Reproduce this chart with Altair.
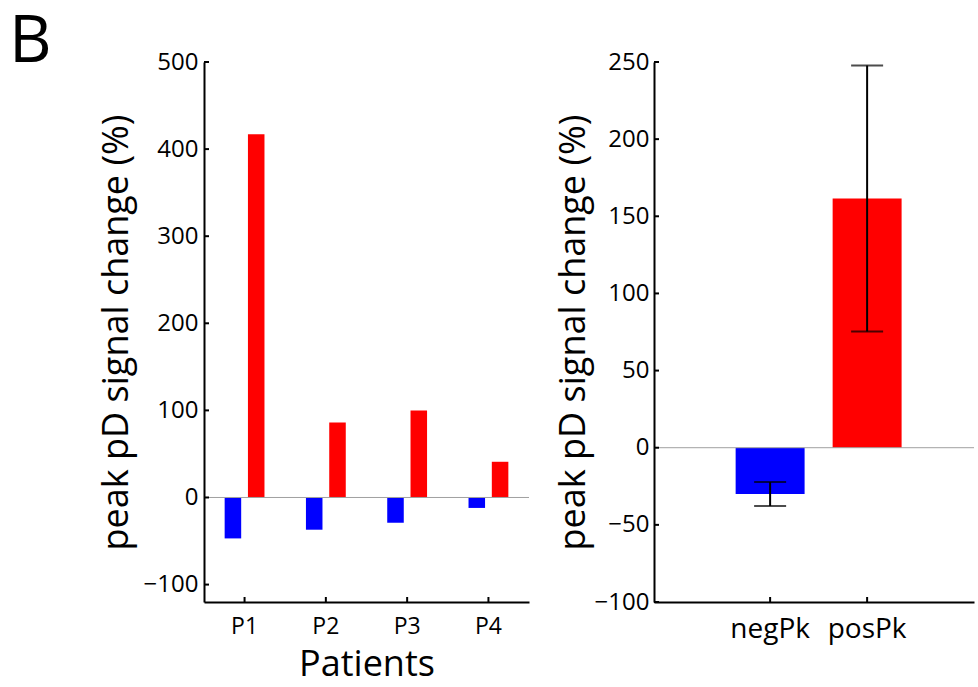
import altair as alt
import pandas as pd

# ---- data ----
patients = ["P1", "P2", "P3", "P4"]
neg_peak = [-47, -37, -29, -12]
pos_peak = [417, 86, 100, 41]
left_ticks = [-100, 0, 100, 200, 300, 400, 500]

groups = ["negPk", "posPk"]
group_mean = [-30, 161.5]
group_sem = [7.8, 86.2]
right_ticks = [-100, -50, 0, 50, 100, 150, 200, 250]

peak_types = ["neg", "pos"]
colors = ["#0000ff", "#ff0000"]

FONT = "Open Sans"
LW, LH = 325, 540
RW, RH = 320, 540
YTITLE = "peak pD signal change (%)"

# ---- left panel ----
df_left = pd.DataFrame({
    "patient": patients * 2,
    "type": [peak_types[0]] * 4 + [peak_types[1]] * 4,
    "value": neg_peak + pos_peak,
})
ly_scale = alt.Scale(domain=[-120, 500], nice=False, zero=False)
lx_scale = alt.Scale(paddingInner=0.51, paddingOuter=0.254)

left_bars = alt.Chart(df_left).mark_bar().encode(
    x=alt.X("patient:N", sort=patients, scale=lx_scale, title="Patients",
            axis=alt.Axis(labelAngle=0, labelFontSize=23,
                          titleFontSize=36, titleFontWeight="normal",
                          tickSize=0, labelPadding=13, titlePadding=9,
                          domainColor="black", domainWidth=2, grid=False)),
    xOffset=alt.XOffset("type:N", scale=alt.Scale(paddingInner=0.29, paddingOuter=0)),
    y=alt.Y("value:Q", scale=ly_scale, title=YTITLE,
            axis=alt.Axis(values=left_ticks,
                          labelFontSize=24, titleFontSize=36, titleFontWeight="normal",
                          tickSize=0, labelPadding=6, titlePadding=8,
                          domainColor="black", domainWidth=2, grid=False)),
    color=alt.Color("type:N", scale=alt.Scale(domain=peak_types, range=colors), legend=None),
)

left_zero = alt.Chart(pd.DataFrame({"value": [0]})).mark_rule(color="#a0a0a0", strokeWidth=1).encode(
    y=alt.Y("value:Q", scale=ly_scale, title=YTITLE), x=alt.value(0), x2=alt.value(LW))

left_yticks = alt.Chart(pd.DataFrame({"value": left_ticks})).mark_rule(color="black", strokeWidth=2).encode(
    y=alt.Y("value:Q", scale=ly_scale, title=YTITLE), x=alt.value(0), x2=alt.value(5))

left_xticks = alt.Chart(pd.DataFrame({"patient": patients})).mark_rule(color="black", strokeWidth=2).encode(
    x=alt.X("patient:N", sort=patients, scale=lx_scale, title="Patients"),
    y=alt.value(LH), y2=alt.value(LH - 5))

label_b = alt.Chart(pd.DataFrame({"lbl": ["B"]})).mark_text(
    fontSize=66, font=FONT, align="left", baseline="alphabetic", color="black"
).encode(text="lbl:N", x=alt.value(-195), y=alt.value(0))

left = alt.layer(left_bars, left_zero, left_yticks, left_xticks, label_b).properties(width=LW, height=LH)

# ---- right panel ----
df_right = pd.DataFrame({"group": groups, "value": group_mean, "sem": group_sem, "type": peak_types})
ry_scale = alt.Scale(domain=[-100, 250], nice=False, zero=False)
rx_scale = alt.Scale(paddingInner=0.289, paddingOuter=0.794, align=0.53)

rbase = alt.Chart(df_right).transform_calculate(
    lo="datum.value - datum.sem", hi="datum.value + datum.sem")

right_bars = rbase.mark_bar().encode(
    x=alt.X("group:N", sort=groups, scale=rx_scale, title=None,
            axis=alt.Axis(labelAngle=0, labelFontSize=28,
                          tickSize=0, labelPadding=13,
                          domainColor="black", domainWidth=2, grid=False)),
    y=alt.Y("value:Q", scale=ry_scale, title=YTITLE,
            axis=alt.Axis(values=right_ticks,
                          labelFontSize=24, titleFontSize=36, titleFontWeight="normal",
                          tickSize=0, labelPadding=5, titlePadding=2,
                          domainColor="black", domainWidth=2, grid=False)),
    color=alt.Color("type:N", scale=alt.Scale(domain=peak_types, range=colors), legend=None),
)
err_rule = rbase.mark_rule(color="black", strokeWidth=2).encode(
    x=alt.X("group:N", sort=groups, scale=rx_scale, title=None),
    y=alt.Y("lo:Q", scale=ry_scale, title=YTITLE), y2="hi:Q")
cap_lo = rbase.mark_tick(color="black", size=32, thickness=2).encode(
    x=alt.X("group:N", sort=groups, scale=rx_scale, title=None),
    y=alt.Y("lo:Q", scale=ry_scale, title=YTITLE))
cap_hi = rbase.mark_tick(color="black", size=32, thickness=2).encode(
    x=alt.X("group:N", sort=groups, scale=rx_scale, title=None),
    y=alt.Y("hi:Q", scale=ry_scale, title=YTITLE))

right_zero = alt.Chart(pd.DataFrame({"value": [0]})).mark_rule(color="#a0a0a0", strokeWidth=1).encode(
    y=alt.Y("value:Q", scale=ry_scale, title=YTITLE), x=alt.value(0), x2=alt.value(RW))
right_yticks = alt.Chart(pd.DataFrame({"value": right_ticks})).mark_rule(color="black", strokeWidth=2).encode(
    y=alt.Y("value:Q", scale=ry_scale, title=YTITLE), x=alt.value(0), x2=alt.value(5))
right_xticks = alt.Chart(pd.DataFrame({"group": groups})).mark_rule(color="black", strokeWidth=2).encode(
    x=alt.X("group:N", sort=groups, scale=rx_scale, title=None),
    y=alt.value(RH), y2=alt.value(RH - 5))

right = alt.layer(right_bars, right_zero, err_rule, cap_lo, cap_hi, right_yticks, right_xticks).properties(
    width=RW, height=RH)

chart = alt.hconcat(left, right, spacing=25).properties(
    padding={"left": 9, "top": 9, "right": 0, "bottom": 0},
    background="white",
).configure(font=FONT).configure_view(stroke=None).configure_axis(
    labelFont=FONT, titleFont=FONT, labelColor="black", titleColor="black", grid=False
)

chart.save("out.html", embed_options={"renderer": "svg", "actions": False})
